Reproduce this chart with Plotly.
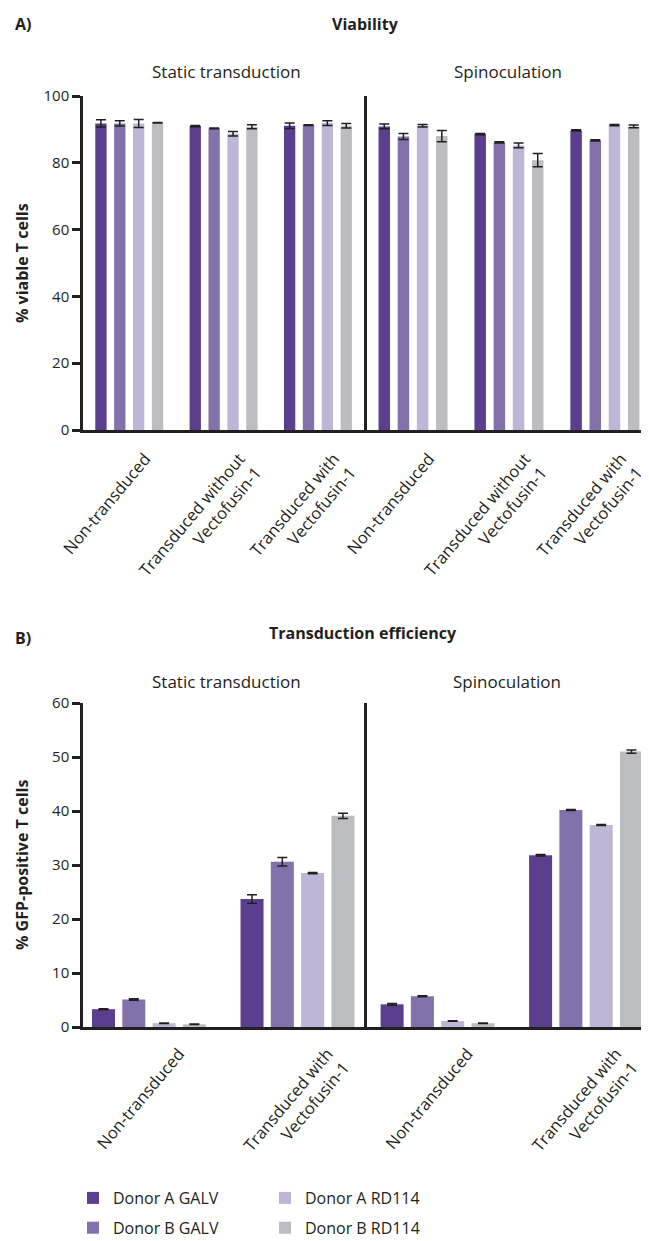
import plotly.graph_objects as go

# ---------------- data ----------------
series_names = ["Donor A GALV", "Donor B GALV", "Donor A RD114", "Donor B RD114"]
series_colors = ["#5b3f8f", "#8371ab", "#bfb5d6", "#bcbdc0"]

viability_categories = ["Non-transduced", "Transduced without<br>Vectofusin-1", "Transduced with<br>Vectofusin-1"]
gfp_categories = ["Non-transduced", "Transduced with<br>Vectofusin-1"]

# % viable T cells, static transduction
viab_static_a_galv = [91.8, 91.0, 91.1]
viab_static_b_galv = [91.8, 90.3, 91.3]
viab_static_a_rd114 = [91.8, 88.7, 91.9]
viab_static_b_rd114 = [92.0, 90.8, 91.1]
viab_static_a_galv_err = [1.1, 0.2, 0.8]
viab_static_b_galv_err = [0.8, 0.1, 0.1]
viab_static_a_rd114_err = [1.2, 0.7, 0.7]
viab_static_b_rd114_err = [0.1, 0.6, 0.7]

# % viable T cells, spinoculation
viab_spin_a_galv = [90.9, 88.6, 89.7]
viab_spin_b_galv = [87.9, 86.1, 86.7]
viab_spin_a_rd114 = [91.1, 85.2, 91.3]
viab_spin_b_rd114 = [88.0, 80.8, 90.9]
viab_spin_a_galv_err = [0.7, 0.2, 0.2]
viab_spin_b_galv_err = [0.9, 0.2, 0.2]
viab_spin_a_rd114_err = [0.4, 0.7, 0.2]
viab_spin_b_rd114_err = [1.7, 2.0, 0.4]

# % GFP-positive T cells, static transduction
gfp_static_a_galv = [3.3, 23.7]
gfp_static_b_galv = [5.1, 30.6]
gfp_static_a_rd114 = [0.7, 28.5]
gfp_static_b_rd114 = [0.5, 39.1]
gfp_static_a_galv_err = [0.1, 0.8]
gfp_static_b_galv_err = [0.15, 0.8]
gfp_static_a_rd114_err = [0.05, 0.1]
gfp_static_b_rd114_err = [0.05, 0.5]

# % GFP-positive T cells, spinoculation
gfp_spin_a_galv = [4.2, 31.8]
gfp_spin_b_galv = [5.7, 40.2]
gfp_spin_a_rd114 = [1.1, 37.4]
gfp_spin_b_rd114 = [0.7, 51.0]
gfp_spin_a_galv_err = [0.15, 0.15]
gfp_spin_b_galv_err = [0.1, 0.1]
gfp_spin_a_rd114_err = [0.05, 0.1]
gfp_spin_b_rd114_err = [0.05, 0.3]

# ---------------- figure ----------------
# page body has an 8px margin: figure is sized so it fills the window exactly
OFF = 8
W, H = 649 - OFF, 1241 - OFF
INK = "#231f20"
FONT = "Open Sans"


def fx(p):
    return (p - OFF) / W


def fy(p):
    return 1 - (p - OFF) / H


fig = go.Figure()

panels = [
    ("x", "y", viability_categories,
     [viab_static_a_galv, viab_static_b_galv, viab_static_a_rd114, viab_static_b_rd114],
     [viab_static_a_galv_err, viab_static_b_galv_err, viab_static_a_rd114_err, viab_static_b_rd114_err],
     0.12, 0.2),
    ("x2", "y2", viability_categories,
     [viab_spin_a_galv, viab_spin_b_galv, viab_spin_a_rd114, viab_spin_b_rd114],
     [viab_spin_a_galv_err, viab_spin_b_galv_err, viab_spin_a_rd114_err, viab_spin_b_rd114_err],
     0.12, 0.2),
    ("x3", "y3", gfp_categories,
     [gfp_static_a_galv, gfp_static_b_galv, gfp_static_a_rd114, gfp_static_b_rd114],
     [gfp_static_a_galv_err, gfp_static_b_galv_err, gfp_static_a_rd114_err, gfp_static_b_rd114_err],
     0.155, 0.204),
    ("x4", "y4", gfp_categories,
     [gfp_spin_a_galv, gfp_spin_b_galv, gfp_spin_a_rd114, gfp_spin_b_rd114],
     [gfp_spin_a_galv_err, gfp_spin_b_galv_err, gfp_spin_a_rd114_err, gfp_spin_b_rd114_err],
     0.155, 0.204),
]

for pi, (xa, ya, cats, vals, errs, bw, pitch) in enumerate(panels):
    for si in range(4):
        center = (si - 1.5) * pitch
        fig.add_trace(go.Bar(
            x=cats, y=vals[si], xaxis=xa, yaxis=ya,
            name=series_names[si],
            marker=dict(color=series_colors[si], line=dict(width=0)),
            width=bw, offset=center - bw / 2,
            error_y=dict(type="data", array=errs[si], color=INK, thickness=1.5, width=5),
            showlegend=(pi == 0),
            legendgroup=series_names[si],
            legend="legend" if si < 2 else "legend2",
        ))

axis_common = dict(showgrid=False, zeroline=False, showline=True, linecolor=INK, linewidth=2.5,
                   automargin=False)
ytick_font = dict(family=FONT, size=15, color=INK)
xtick_font = dict(family=FONT, size=16.5, color=INK)
xcat_top = dict(type="category", ticks="", tickangle=-50, tickfont=xtick_font,
                ticklabelshift=16, ticklabelstandoff=10)
xcat_bot = dict(type="category", ticks="", tickangle=-50, tickfont=xtick_font,
                ticklabelshift=30, ticklabelstandoff=8)

xleft = [fx(83), fx(367)]
xright = [fx(367), 1.0]
ytop = [fy(430), fy(96)]
ybot = [fy(1027), fy(703)]

legend_font = dict(family=FONT, size=16, color=INK)

fig.update_layout(
    width=W, height=H,
    margin=dict(l=0, r=0, t=0, b=0, pad=0, autoexpand=False),
    paper_bgcolor="white", plot_bgcolor="white",
    font=dict(family=FONT, size=15, color=INK),
    barmode="overlay",
    xaxis=dict(domain=xleft, anchor="y", range=[-0.49, 2.52], **xcat_top, **axis_common),
    yaxis=dict(domain=ytop, anchor="x", range=[0, 100], tickvals=[0, 20, 40, 60, 80, 100],
               ticks="outside", ticklen=8, tickwidth=2.5, tickcolor=INK, tickfont=ytick_font,
               **axis_common),
    xaxis2=dict(domain=xright, anchor="y2", range=[-0.48, 2.46], **xcat_top, **axis_common),
    yaxis2=dict(domain=ytop, anchor="x2", range=[0, 100], ticks="", showticklabels=False,
                **axis_common),
    xaxis3=dict(domain=xleft, anchor="y3", range=[-0.444, 1.468], **xcat_bot, **axis_common),
    yaxis3=dict(domain=ybot, anchor="x3", range=[0, 60], tickvals=[0, 10, 20, 30, 40, 50, 60],
                ticks="outside", ticklen=8, tickwidth=2.5, tickcolor=INK, tickfont=ytick_font,
                **axis_common),
    xaxis4=dict(domain=xright, anchor="y4", range=[-0.475, 1.424], **xcat_bot, **axis_common),
    yaxis4=dict(domain=ybot, anchor="x4", range=[0, 60], ticks="", showticklabels=False,
                **axis_common),
    legend=dict(x=fx(73), y=fy(1181), xanchor="left", yanchor="top", orientation="v",
                bgcolor="rgba(0,0,0,0)", font=legend_font, tracegroupgap=6),
    legend2=dict(x=fx(265), y=fy(1181), xanchor="left", yanchor="top", orientation="v",
                 bgcolor="rgba(0,0,0,0)", font=legend_font, tracegroupgap=6),
)

bold = dict(family=FONT, size=16, color=INK)
reg = dict(family=FONT, size=17, color=INK)
annots = [
    dict(text="<b>A)</b>", x=fx(13), y=fy(24), xanchor="left", font=bold),
    dict(text="<b>Viability</b>", x=fx(365), y=fy(24), xanchor="center", font=bold),
    dict(text="<b>B)</b>", x=fx(13), y=fy(638), xanchor="left", font=bold),
    dict(text="<b>Transduction efficiency</b>", x=fx(363), y=fy(633), xanchor="center", font=bold),
    dict(text="Static transduction", x=fx(226), y=fy(72), xanchor="center", font=reg),
    dict(text="Spinoculation", x=fx(508), y=fy(72), xanchor="center", font=reg),
    dict(text="Static transduction", x=fx(226), y=fy(681), xanchor="center", font=reg),
    dict(text="Spinoculation", x=fx(507), y=fy(681), xanchor="center", font=reg),
    dict(text="<b>% viable T cells</b>", x=fx(9), y=fy(263), xanchor="left", textangle=-90,
         font=dict(family=FONT, size=16, color=INK)),
    dict(text="<b>% GFP-positive T cells</b>", x=fx(9), y=fy(865), xanchor="left", textangle=-90,
         font=dict(family=FONT, size=16, color=INK)),
]
for a in annots:
    a.update(xref="paper", yref="paper", showarrow=False, yanchor="middle")
fig.update_layout(annotations=annots)

fig.write_html("out.html")
